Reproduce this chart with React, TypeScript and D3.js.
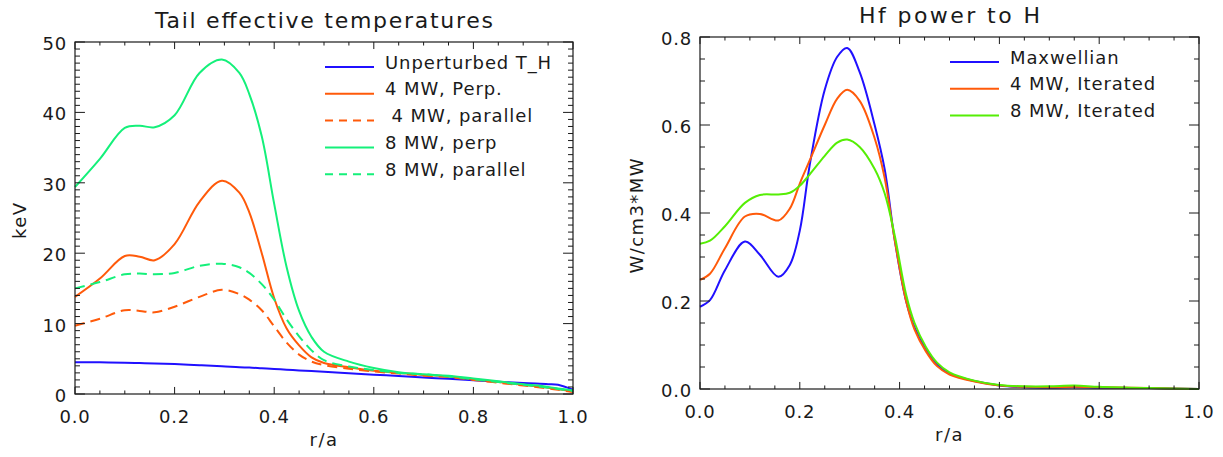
import React from "react";
import * as d3 from "d3";

// ---- data ----
const rLeft = [0, 0.05, 0.1, 0.13, 0.16, 0.2, 0.25, 0.295, 0.33, 0.35, 0.375, 0.4, 0.425, 0.45, 0.475, 0.5, 0.55, 0.6, 0.65, 0.7, 0.75, 0.8, 0.85, 0.9, 0.95, 0.97, 1.0];
const unperturbedTH = [4.5, 4.5, 4.45, 4.4, 4.35, 4.25, 4.1, 3.95, 3.8, 3.75, 3.65, 3.55, 3.45, 3.35, 3.25, 3.15, 2.95, 2.75, 2.55, 2.35, 2.15, 1.95, 1.75, 1.55, 1.4, 1.3, 0.6];
const perp4 = [13.8, 16.4, 19.6, 19.5, 19.0, 21.3, 27.3, 30.3, 28.6, 25.8, 20.0, 13.6, 9.3, 6.9, 5.2, 4.4, 3.8, 3.3, 3.0, 2.7, 2.5, 2.1, 1.7, 1.3, 0.9, 0.7, 0.3];
const parallel4 = [9.7, 10.7, 11.9, 11.8, 11.6, 12.4, 13.8, 14.8, 14.2, 13.4, 11.9, 9.6, 7.3, 5.6, 4.6, 4.1, 3.6, 3.2, 2.9, 2.6, 2.4, 2.0, 1.6, 1.2, 0.8, 0.6, 0.3];
const perp8 = [29.4, 33.4, 37.8, 38.1, 37.9, 39.6, 45.6, 47.5, 45.6, 42.6, 36.6, 27.0, 18.0, 11.8, 8.1, 6.0, 4.6, 3.7, 3.1, 2.8, 2.6, 2.2, 1.8, 1.4, 1.0, 0.8, 0.5];
const parallel8 = [15.0, 15.9, 17.0, 17.1, 17.0, 17.2, 18.2, 18.5, 18.0, 17.2, 15.6, 13.4, 10.6, 8.2, 6.2, 4.8, 3.9, 3.4, 3.0, 2.8, 2.5, 2.1, 1.7, 1.3, 0.9, 0.7, 0.4];

const rRight = [0, 0.02, 0.05, 0.09, 0.12, 0.157, 0.18, 0.2, 0.22, 0.25, 0.275, 0.295, 0.32, 0.35, 0.37, 0.39, 0.413, 0.43, 0.453, 0.475, 0.5, 0.55, 0.6, 0.65, 0.7, 0.75, 0.8, 0.9, 1.0];
const maxwellian = [0.187, 0.202, 0.27, 0.335, 0.305, 0.255, 0.282, 0.36, 0.51, 0.68, 0.755, 0.775, 0.72, 0.6, 0.5, 0.34, 0.2, 0.14, 0.089, 0.055, 0.035, 0.018, 0.008, 0.004, 0.003, 0.004, 0.003, 0.002, 0.0];
const iterated4 = [0.248, 0.262, 0.32, 0.392, 0.398, 0.383, 0.41, 0.467, 0.52, 0.6, 0.66, 0.68, 0.655, 0.57, 0.48, 0.34, 0.2, 0.135, 0.085, 0.052, 0.033, 0.017, 0.008, 0.005, 0.004, 0.005, 0.004, 0.002, 0.0];
const iterated8 = [0.33, 0.337, 0.37, 0.423, 0.441, 0.442, 0.446, 0.462, 0.488, 0.53, 0.56, 0.567, 0.55, 0.5, 0.445, 0.35, 0.215, 0.15, 0.095, 0.06, 0.038, 0.019, 0.009, 0.006, 0.006, 0.008, 0.005, 0.002, 0.0];

const xTickLabels = [0, 0.2, 0.4, 0.6, 0.8, 1.0];
const leftYTickLabels = [0, 10, 20, 30, 40, 50];
const rightYTickLabels = [0, 0.2, 0.4, 0.6, 0.8];

const leftLegend = ["Unperturbed T_H", "4 MW, Perp.", " 4 MW, parallel", "8 MW, perp", "8 MW, parallel"];
const rightLegend = ["Maxwellian", "4 MW, Iterated", "8 MW, Iterated"];

const BLUE = "#2010ff";
const ORANGE = "#ff5a0a";
const GREEN_L = "#14f07a";
const GREEN_R = "#55ee05";
const FONT = "'DejaVu Sans', Verdana, sans-serif";
const INK = "#1a1a1a";

type Series = { r: number[]; v: number[]; color: string; dash?: string; label: string };

type PanelProps = {
  left: number; right: number; top: number; bottom: number;
  yMax: number; yMajor: number[]; yMinorStep: number; yFmt: (v: number) => string;
  title: string; titleLen: number; yLabel: string; yLabelX: number; yLabelLen: number;
  series: Series[]; legendX: number; legendY: number;
};

const Panel = (p: PanelProps) => {
  const x = d3.scaleLinear().domain([0, 1]).range([p.left, p.right]);
  const y = d3.scaleLinear().domain([0, p.yMax]).range([p.bottom, p.top]);
  const w = p.right - p.left;
  const h = p.bottom - p.top;
  const yTickLen = 0.02 * w; // horizontal ticks on y axes
  const xTickLen = 0.02 * h; // vertical ticks on x axes
  const xMinor = d3.range(0, 1.0001, 0.05);
  const yMinor = d3.range(0, p.yMax + 1e-9, p.yMinorStep);
  const isMajorX = (t: number) => xTickLabels.some((m) => Math.abs(m - t) < 1e-6);
  const isMajorY = (t: number) => p.yMajor.some((m) => Math.abs(m - t) < 1e-6);

  const line = d3.line<[number, number]>()
    .x((d) => x(d[0]))
    .y((d) => y(d[1]))
    .curve(d3.curveCatmullRom.alpha(0.5));

  return (
    <g>
      {/* title */}
      <text x={(p.left + p.right) / 2} y={p.top - 14} textAnchor="middle" fontFamily={FONT}
        fontSize={22} fill={INK} textLength={p.titleLen} lengthAdjust="spacing">{p.title}</text>

      {/* curves */}
      {p.series.map((s, i) => (
        <path key={i} d={line(s.r.map((r, j) => [r, s.v[j]] as [number, number])) || ""}
          fill="none" stroke={s.color} strokeWidth={2} strokeDasharray={s.dash} />
      ))}

      {/* frame */}
      <rect x={p.left} y={p.top} width={w} height={h} fill="none" stroke={INK} strokeWidth={1.2} />

      {/* x ticks, bottom and top */}
      {xMinor.map((t) => {
        const len = isMajorX(t) ? xTickLen : xTickLen / 2;
        return (
          <g key={"x" + t}>
            <line x1={x(t)} x2={x(t)} y1={p.bottom} y2={p.bottom - len} stroke={INK} />
            <line x1={x(t)} x2={x(t)} y1={p.top} y2={p.top + len} stroke={INK} />
          </g>
        );
      })}
      {xTickLabels.map((t) => (
        <text key={"xl" + t} x={x(t)} y={p.bottom + 29} textAnchor="middle" fontFamily={FONT}
          fontSize={18} fill={INK} letterSpacing={0.8}>{d3.format(".1f")(t)}</text>
      ))}
      <text x={(p.left + p.right) / 2} y={p.bottom + 52} textAnchor="middle" fontFamily={FONT}
        fontSize={18} fill={INK} letterSpacing={1.5}>r/a</text>

      {/* y ticks, left and right */}
      {yMinor.map((t) => {
        const len = isMajorY(t) ? yTickLen : yTickLen / 2;
        return (
          <g key={"y" + t}>
            <line x1={p.left} x2={p.left + len} y1={y(t)} y2={y(t)} stroke={INK} />
            <line x1={p.right} x2={p.right - len} y1={y(t)} y2={y(t)} stroke={INK} />
          </g>
        );
      })}
      {p.yMajor.map((t) => (
        <text key={"yl" + t} x={p.left - 8} y={y(t) + 8} textAnchor="end" fontFamily={FONT}
          fontSize={18} fill={INK} letterSpacing={0.8}>{p.yFmt(t)}</text>
      ))}
      <text transform={`translate(${p.yLabelX},${(p.top + p.bottom) / 2 + 3}) rotate(-90)`}
        textAnchor="middle" fontFamily={FONT} fontSize={18} fill={INK}
        textLength={p.yLabelLen} lengthAdjust="spacing">{p.yLabel}</text>

      {/* legend */}
      {p.series.map((s, i) => {
        const ly = p.legendY + i * 26.8;
        return (
          <g key={"lg" + i}>
            <line x1={p.legendX} x2={p.legendX + 49} y1={ly} y2={ly} stroke={s.color}
              strokeWidth={2} strokeDasharray={s.dash ? "8,6" : undefined} />
            <text x={p.legendX + 60} y={ly + 1.5} fontFamily={FONT} fontSize={18} fill={INK}
              letterSpacing={0.9} style={{ whiteSpace: "pre" }}>{s.label}</text>
          </g>
        );
      })}
    </g>
  );
};

const App = () => {
  const leftSeries: Series[] = [
    { r: rLeft, v: unperturbedTH, color: BLUE, label: leftLegend[0] },
    { r: rLeft, v: perp4, color: ORANGE, label: leftLegend[1] },
    { r: rLeft, v: parallel4, color: ORANGE, dash: "10,6", label: leftLegend[2] },
    { r: rLeft, v: perp8, color: GREEN_L, label: leftLegend[3] },
    { r: rLeft, v: parallel8, color: GREEN_L, dash: "10,6", label: leftLegend[4] },
  ];
  const rightSeries: Series[] = [
    { r: rRight, v: maxwellian, color: BLUE, label: rightLegend[0] },
    { r: rRight, v: iterated4, color: ORANGE, label: rightLegend[1] },
    { r: rRight, v: iterated8, color: GREEN_R, label: rightLegend[2] },
  ];

  return (
    <div style={{ position: "absolute", left: 0, top: 0 }}>
      <svg width={1223} height={457} style={{ display: "block", background: "#fff" }}>
        <Panel left={75} right={573} top={42} bottom={394} yMax={50} yMajor={leftYTickLabels}
          yMinorStep={1} yFmt={(v) => String(v)} title="Tail effective temperatures" titleLen={338}
          yLabel="keV" yLabelX={26} yLabelLen={36} series={leftSeries} legendX={325} legendY={67} />
        <Panel left={700} right={1199} top={37} bottom={389} yMax={0.8} yMajor={rightYTickLabels}
          yMinorStep={0.05} yFmt={d3.format(".1f")} title="Hf power to H" titleLen={181}
          yLabel="W/cm3*MW" yLabelX={643} yLabelLen={115} series={rightSeries} legendX={950} legendY={62} />
      </svg>
    </div>
  );
};

export default App;
